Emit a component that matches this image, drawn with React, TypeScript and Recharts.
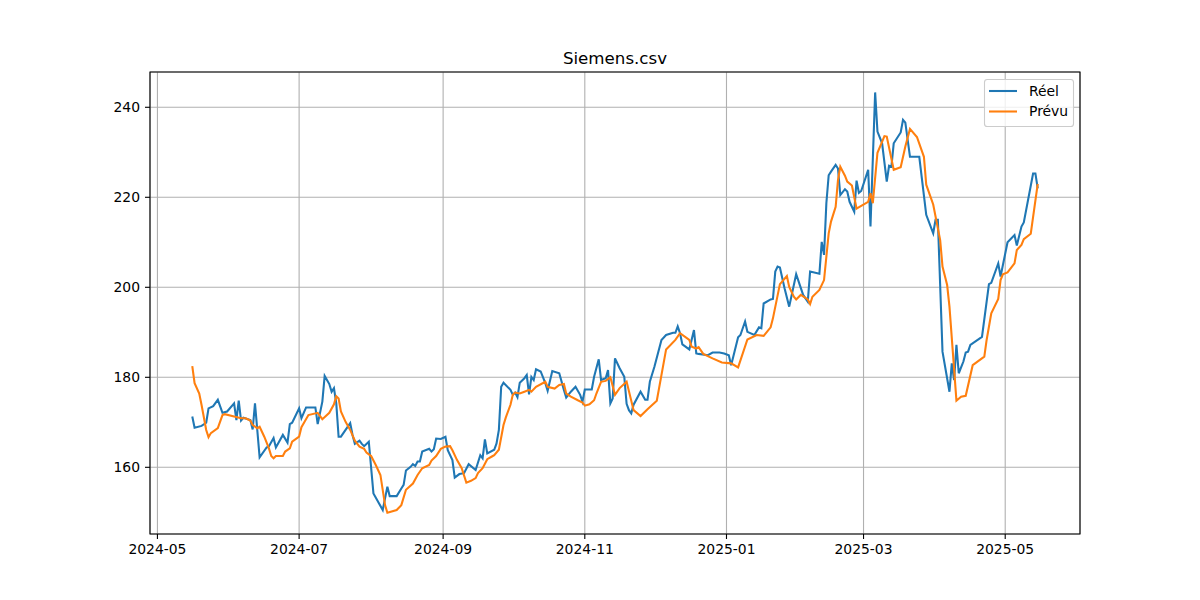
import React from 'react';
import { LineChart, Line, XAxis, YAxis, CartesianGrid, ReferenceArea } from 'recharts';

const chartTitle = 'Siemens.csv';
const seriesNames = ['Réel', 'Prévu'];
const xTickLabels = ['2024-05', '2024-07', '2024-09', '2024-11', '2025-01', '2025-03', '2025-05'];
const yTicks = [160, 180, 200, 220, 240];

const reelDates = [
  '2024-05-16', '2024-05-17', '2024-05-20', '2024-05-22', '2024-05-23', '2024-05-25', '2024-05-27', '2024-05-29', '2024-05-31',
  '2024-06-03', '2024-06-04', '2024-06-05', '2024-06-06', '2024-06-07', '2024-06-10', '2024-06-11', '2024-06-12', '2024-06-14',
  '2024-06-17', '2024-06-18', '2024-06-20', '2024-06-21', '2024-06-24', '2024-06-26', '2024-06-27', '2024-06-28',
  '2024-07-01', '2024-07-02', '2024-07-04', '2024-07-08', '2024-07-09', '2024-07-11', '2024-07-12', '2024-07-14', '2024-07-15',
  '2024-07-16', '2024-07-17', '2024-07-18', '2024-07-19', '2024-07-21', '2024-07-23', '2024-07-24', '2024-07-25', '2024-07-27',
  '2024-07-28', '2024-07-29', '2024-07-31', '2024-08-02', '2024-08-06', '2024-08-08', '2024-08-09', '2024-08-12', '2024-08-14',
  '2024-08-15', '2024-08-16', '2024-08-18', '2024-08-19', '2024-08-20', '2024-08-21', '2024-08-22', '2024-08-23', '2024-08-26',
  '2024-08-27', '2024-08-28', '2024-08-29', '2024-08-31', '2024-09-02', '2024-09-03', '2024-09-05', '2024-09-06', '2024-09-08',
  '2024-09-10', '2024-09-12', '2024-09-15', '2024-09-17', '2024-09-18', '2024-09-19', '2024-09-20', '2024-09-23', '2024-09-24',
  '2024-09-25', '2024-09-26', '2024-09-27', '2024-09-30', '2024-10-01', '2024-10-02', '2024-10-03', '2024-10-04', '2024-10-06',
  '2024-10-07', '2024-10-08', '2024-10-09', '2024-10-10', '2024-10-11', '2024-10-13', '2024-10-15', '2024-10-16', '2024-10-18',
  '2024-10-21', '2024-10-23', '2024-10-24', '2024-10-26', '2024-10-28', '2024-10-30', '2024-10-31', '2024-11-01', '2024-11-04',
  '2024-11-05', '2024-11-07', '2024-11-08', '2024-11-10', '2024-11-11', '2024-11-12', '2024-11-13', '2024-11-14', '2024-11-16',
  '2024-11-18', '2024-11-19', '2024-11-20', '2024-11-21', '2024-11-22', '2024-11-25', '2024-11-27', '2024-11-28', '2024-11-29',
  '2024-12-01', '2024-12-04', '2024-12-06', '2024-12-09', '2024-12-10', '2024-12-11', '2024-12-12', '2024-12-13', '2024-12-16',
  '2024-12-18', '2024-12-19', '2024-12-20', '2024-12-24', '2024-12-26', '2024-12-29', '2024-12-31', '2025-01-02', '2025-01-03',
  '2025-01-06', '2025-01-07', '2025-01-09', '2025-01-10', '2025-01-13', '2025-01-15', '2025-01-16', '2025-01-17', '2025-01-20',
  '2025-01-21', '2025-01-22', '2025-01-23', '2025-01-24', '2025-01-26', '2025-01-28', '2025-01-31', '2025-02-03', '2025-02-05',
  '2025-02-06', '2025-02-10', '2025-02-11', '2025-02-12', '2025-02-13', '2025-02-14', '2025-02-15', '2025-02-17', '2025-02-18',
  '2025-02-19', '2025-02-21', '2025-02-22', '2025-02-23', '2025-02-25', '2025-02-26', '2025-02-27', '2025-02-28', '2025-03-03',
  '2025-03-04', '2025-03-06', '2025-03-07', '2025-03-09', '2025-03-11', '2025-03-12', '2025-03-13', '2025-03-14', '2025-03-17',
  '2025-03-18', '2025-03-19', '2025-03-21', '2025-03-25', '2025-03-28', '2025-03-31', '2025-04-01', '2025-04-02', '2025-04-04',
  '2025-04-07', '2025-04-08', '2025-04-09', '2025-04-10', '2025-04-11', '2025-04-13', '2025-04-14', '2025-04-15', '2025-04-16',
  '2025-04-21', '2025-04-24', '2025-04-25', '2025-04-28', '2025-04-29', '2025-05-02', '2025-05-05', '2025-05-06', '2025-05-08',
  '2025-05-09', '2025-05-13', '2025-05-14', '2025-05-15',
];

const reelValues = [
  171.3, 168.8, 169.2, 169.9, 173.1, 173.6, 175.0, 172.1, 172.4,
  174.2, 170.5, 174.8, 170.4, 171.0, 170.5, 168.4, 174.2, 162.2,
  164.4, 164.7, 166.5, 164.4, 167.2, 165.5, 169.6, 169.9,
  173.1, 170.9, 173.3, 173.3, 169.6, 174.6, 180.3, 178.5, 176.8,
  177.6, 174.2, 166.8, 166.8, 168.3, 169.8, 167.2, 165.2, 165.9,
  165.2, 164.7, 165.7, 154.2, 150.5, 155.7, 153.6, 153.6, 155.3,
  156.1, 159.3, 160.1, 160.7, 160.3, 161.3, 161.3, 163.5, 164.1,
  163.5, 164.0, 166.4, 166.3, 166.8, 163.8, 161.6, 157.7, 158.5,
  158.7, 160.7, 159.4, 162.7, 162.0, 166.2, 163.1, 163.9, 165.3,
  168.3, 177.9, 178.8, 177.2, 176.1, 176.6, 175.6, 178.8, 179.8,
  180.5, 176.2, 180.1, 179.4, 181.8, 181.3, 178.7, 177.0, 181.4,
  180.9, 177.2, 175.5, 176.8, 177.9, 176.1, 174.6, 177.3, 177.3,
  180.1, 184.0, 179.4, 179.8, 181.6, 174.2, 175.3, 184.2, 182.0,
  180.1, 174.1, 172.7, 172.0, 173.9, 176.8, 175.0, 175.0, 179.0,
  182.4, 188.3, 189.4, 189.9, 189.9, 191.3, 189.8, 187.3, 186.2,
  190.5, 185.3, 185.2, 184.9, 185.5, 185.5, 185.3, 184.9, 182.7,
  188.9, 189.4, 192.4, 190.1, 189.4, 191.1, 190.9, 196.4, 197.3,
  197.4, 203.5, 204.6, 204.4, 199.8, 195.7, 202.9, 198.3, 196.8,
  203.5, 203.0, 210.1, 207.2, 218.7, 224.9, 225.7, 227.2, 226.4,
  220.5, 221.8, 221.3, 219.0, 216.8, 223.7, 221.0, 221.4, 226.1,
  213.5, 243.3, 234.6, 232.0, 223.5, 227.0, 226.8, 232.0, 234.4,
  237.2, 236.6, 229.0, 229.0, 216.1, 212.0, 215.0, 215.0, 185.7,
  176.8, 183.1, 179.4, 187.2, 180.9, 183.5, 185.5, 185.7, 187.2,
  189.0, 200.7, 201.0, 205.3, 202.4, 210.0, 211.6, 209.3, 213.5,
  214.4, 225.3, 225.3, 222.0,
];

const prevuDates = [
  '2024-05-16', '2024-05-17', '2024-05-19', '2024-05-20', '2024-05-22', '2024-05-23', '2024-05-24', '2024-05-27', '2024-05-29',
  '2024-05-30', '2024-06-03', '2024-06-06', '2024-06-08', '2024-06-10', '2024-06-11', '2024-06-13', '2024-06-14', '2024-06-16',
  '2024-06-18', '2024-06-19', '2024-06-20', '2024-06-21', '2024-06-24', '2024-06-25', '2024-06-27', '2024-06-28', '2024-07-01',
  '2024-07-02', '2024-07-05', '2024-07-09', '2024-07-11', '2024-07-14', '2024-07-16', '2024-07-17', '2024-07-18', '2024-07-19',
  '2024-07-21', '2024-07-23', '2024-07-25', '2024-07-27', '2024-07-29', '2024-07-30', '2024-08-01', '2024-08-03', '2024-08-05',
  '2024-08-07', '2024-08-08', '2024-08-12', '2024-08-14', '2024-08-16', '2024-08-19', '2024-08-21', '2024-08-23', '2024-08-26',
  '2024-08-27', '2024-08-29', '2024-08-31', '2024-09-02', '2024-09-04', '2024-09-05', '2024-09-07', '2024-09-09', '2024-09-11',
  '2024-09-13', '2024-09-15', '2024-09-16', '2024-09-18', '2024-09-20', '2024-09-22', '2024-09-23', '2024-09-25', '2024-09-27',
  '2024-09-28', '2024-09-30', '2024-10-01', '2024-10-02', '2024-10-04', '2024-10-06', '2024-10-08', '2024-10-09', '2024-10-11',
  '2024-10-15', '2024-10-16', '2024-10-19', '2024-10-21', '2024-10-23', '2024-10-24', '2024-10-26', '2024-10-29', '2024-10-31',
  '2024-11-01', '2024-11-03', '2024-11-05', '2024-11-06', '2024-11-08', '2024-11-10', '2024-11-12', '2024-11-14', '2024-11-16',
  '2024-11-19', '2024-11-22', '2024-11-25', '2024-11-28', '2024-12-02', '2024-12-06', '2024-12-10', '2024-12-12', '2024-12-16',
  '2024-12-17', '2024-12-19', '2024-12-20', '2024-12-22', '2024-12-26', '2024-12-30', '2025-01-03', '2025-01-06', '2025-01-10',
  '2025-01-14', '2025-01-17', '2025-01-20', '2025-01-21', '2025-01-24', '2025-01-27', '2025-01-28', '2025-01-30', '2025-01-31',
  '2025-02-02', '2025-02-05', '2025-02-06', '2025-02-07', '2025-02-10', '2025-02-12', '2025-02-14', '2025-02-15', '2025-02-17',
  '2025-02-18', '2025-02-19', '2025-02-21', '2025-02-22', '2025-02-24', '2025-02-26', '2025-02-28', '2025-03-03', '2025-03-04',
  '2025-03-05', '2025-03-07', '2025-03-10', '2025-03-11', '2025-03-14', '2025-03-17', '2025-03-19', '2025-03-21', '2025-03-24',
  '2025-03-27', '2025-03-28', '2025-03-31', '2025-04-03', '2025-04-04', '2025-04-06', '2025-04-07', '2025-04-10', '2025-04-12',
  '2025-04-14', '2025-04-17', '2025-04-22', '2025-04-23', '2025-04-25', '2025-04-28', '2025-04-29', '2025-04-30', '2025-05-02',
  '2025-05-05', '2025-05-06', '2025-05-08', '2025-05-09', '2025-05-12', '2025-05-15',
];

const prevuValues = [
  182.5, 178.7, 176.4, 173.85, 168.3, 166.7, 167.6, 168.7, 171.6,
  171.8, 171.3, 170.9, 170.9, 170.4, 169.4, 168.7, 169.0, 166.8,
  164.2, 162.5, 162.0, 162.5, 162.5, 163.5, 164.2, 165.7, 166.8,
  168.9, 171.6, 172.1, 170.7, 172.1, 174.0, 175.8, 175.3, 172.4,
  170.1, 168.3, 165.9, 164.6, 164.1, 163.3, 162.5, 160.5, 158.3,
  151.6, 149.9, 150.5, 151.6, 155.0, 156.4, 158.3, 159.8, 160.5,
  161.5, 162.5, 164.1, 164.6, 164.7, 163.8, 161.6, 159.8, 156.6,
  157.0, 157.6, 158.7, 159.8, 161.8, 162.4, 162.7, 163.9, 169.4,
  171.1, 173.9, 176.1, 176.6, 176.4, 176.8, 177.2, 176.8, 177.9,
  179.0, 177.9, 177.5, 178.3, 178.5, 176.4, 175.7, 174.9, 174.4,
  173.7, 174.0, 174.9, 176.4, 179.0, 179.2, 180.0, 176.1, 177.6,
  179.0, 172.7, 171.4, 172.9, 174.8, 186.2, 188.3, 189.8, 188.3,
  186.8, 186.4, 186.7, 185.2, 184.2, 183.3, 183.1, 182.2, 188.4,
  189.4, 189.2, 191.1, 193.1, 200.7, 202.5, 200.1, 197.9, 197.3,
  198.3, 197.3, 196.3, 197.9, 199.4, 201.6, 212.0, 214.6, 217.9,
  223.8, 226.8, 224.8, 223.5, 222.6, 217.5, 218.1, 219.0, 220.9,
  218.7, 229.9, 233.6, 233.5, 226.1, 226.7, 231.3, 235.2, 233.4,
  229.0, 222.8, 218.4, 210.5, 204.6, 200.5, 195.7, 174.8, 175.7,
  175.9, 182.7, 184.6, 188.3, 194.2, 197.4, 201.6, 202.9, 203.3,
  205.3, 208.3, 209.4, 210.7, 211.9, 223.0,
];

const BASE = Date.UTC(2024, 4, 1);
const toDay = (s: string) => {
  const [y, m, d] = s.split('-').map(Number);
  return (Date.UTC(y, m - 1, d || 1) - BASE) / 86400000;
};

const reelData = reelDates.map((d, i) => ({ x: toDay(d), v: reelValues[i] }));
const prevuData = prevuDates.map((d, i) => ({ x: toDay(d), v: prevuValues[i] }));
const xTicks = xTickLabels.map((l) => toDay(l + '-01'));

const X_DOMAIN: [number, number] = [-3.2, 397.2];
const Y_DOMAIN: [number, number] = [145.18, 247.84];

const BLUE = '#1f77b4';
const ORANGE = '#ff7f0e';
const FONT = '"DejaVu Sans", sans-serif';

export default function App() {
  const tickStyle = { fill: '#000', fontSize: 13.9, fontFamily: FONT };
  return (
    <div style={{ position: 'absolute', left: 0, top: 0, width: 1200, height: 600, background: '#fff' }}>
      <LineChart
        width={1200}
        height={600}
        margin={{ top: 72, right: 120, bottom: 36, left: 90 }}
      >
        <CartesianGrid stroke="#b0b0b0" strokeWidth={1.1} vertical horizontal />
        <XAxis
          dataKey="x"
          type="number"
          domain={X_DOMAIN}
          ticks={xTicks}
          tickFormatter={(v: number) => xTickLabels[xTicks.indexOf(v)] ?? ''}
          allowDataOverflow
          height={30}
          tickSize={5}
          tickMargin={5}
          stroke="#000"
          axisLine={false}
          tickLine={{ stroke: '#000', strokeWidth: 1.1 }}
          tick={tickStyle}
          interval={0}
        />
        <YAxis
          type="number"
          domain={Y_DOMAIN}
          ticks={yTicks}
          allowDataOverflow
          width={60}
          tickSize={5}
          tickMargin={5}
          axisLine={false}
          tickLine={{ stroke: '#000', strokeWidth: 1.1 }}
          tick={tickStyle}
          interval={0}
        />
        <Line
          data={reelData}
          dataKey="v"
          name={seriesNames[0]}
          type="linear"
          stroke={BLUE}
          strokeWidth={2.08}
          dot={false}
          activeDot={false}
          isAnimationActive={false}
        />
        <Line
          data={prevuData}
          dataKey="v"
          name={seriesNames[1]}
          type="linear"
          stroke={ORANGE}
          strokeWidth={2.08}
          dot={false}
          activeDot={false}
          isAnimationActive={false}
        />
        <ReferenceArea
          x1={X_DOMAIN[0]}
          x2={X_DOMAIN[1]}
          y1={Y_DOMAIN[0]}
          y2={Y_DOMAIN[1]}
          fill="none"
          fillOpacity={0}
          stroke="#000"
          strokeWidth={1.1}
          ifOverflow="visible"
        />
      </LineChart>
      <svg
        width={1200}
        height={600}
        style={{ position: 'absolute', left: 0, top: 0, pointerEvents: 'none' }}
      >
        <text x={615} y={63.7} textAnchor="middle" fontSize={16.67} fontFamily={FONT} fill="#000">
          {chartTitle}
        </text>
        <rect x={984.5} y={79.5} width={89} height={47} rx={2.8} ry={2.8} fill="#fff" fillOpacity={0.8} stroke="#cccccc" strokeWidth={1.1} />
        <line x1={989} y1={91} x2={1017} y2={91} stroke={BLUE} strokeWidth={2.08} />
        <line x1={989} y1={111.5} x2={1017} y2={111.5} stroke={ORANGE} strokeWidth={2.08} />
        <text x={1029} y={95.8} fontSize={13.9} fontFamily={FONT} fill="#000">{seriesNames[0]}</text>
        <text x={1029} y={116.4} fontSize={13.9} fontFamily={FONT} fill="#000">{seriesNames[1]}</text>
      </svg>
    </div>
  );
}
